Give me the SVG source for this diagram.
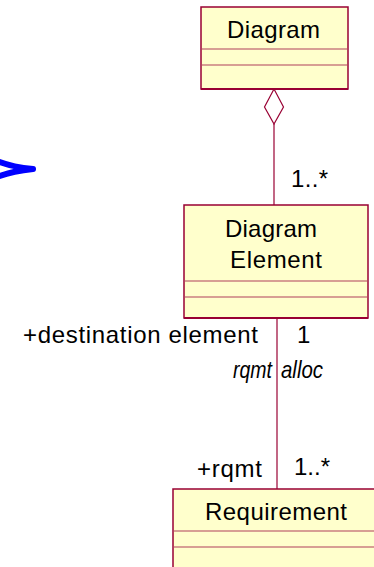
<svg xmlns="http://www.w3.org/2000/svg" width="374" height="567" viewBox="0 0 374 567">
  <style>
    .box { fill: #FFFFCC; stroke: #990033; stroke-width: 1.5; }
    .sep { stroke: #B0405A; stroke-width: 1.2; fill: none; }
    .base { stroke: #990033; stroke-width: 2.2; fill: none; }
    .name { font-family: "Liberation Sans", Arial, sans-serif; font-size: 24px; fill: #000; }
    .lbl { font-family: "Liberation Sans", Arial, sans-serif; font-size: 24px; fill: #000; }
    .it { font-style: italic; }
    .edge { stroke: #990033; stroke-width: 1.2; fill: none; }
  </style>

  <!-- stray pen stroke at the left margin -->
  <path d="M -3,161 Q 12,167 33,169 M -3,177 Q 12,171 33,169" fill="none" stroke="#0000FF" stroke-width="6" stroke-linecap="round" stroke-linejoin="round"/>

  <g id="connectors">
    <!-- aggregation: Diagram <>— Diagram Element -->
    <line class="edge" x1="274" y1="124" x2="274" y2="205"/>
    <polygon points="274,89 283.5,107 274,124 264.5,107" fill="#FFFFFF" stroke="#990033" stroke-width="1.2"/>
    <!-- association: Diagram Element — Requirement -->
    <line class="edge" x1="277" y1="318" x2="277" y2="489"/>
  </g>

  <g id="labels">
    <text class="lbl" x="291" y="187" textLength="37" lengthAdjust="spacing">1..*</text>
    <text class="lbl" x="23" y="343" textLength="235" lengthAdjust="spacing">+destination element</text>
    <text class="lbl" x="297" y="343">1</text>
    <text class="lbl it" x="233" y="378" textLength="39" lengthAdjust="spacingAndGlyphs">rqmt</text>
    <text class="lbl it" x="281" y="378" textLength="42" lengthAdjust="spacingAndGlyphs">alloc</text>
    <text class="lbl" x="197" y="477" textLength="65" lengthAdjust="spacing">+rqmt</text>
    <text class="lbl" x="294" y="475" textLength="36" lengthAdjust="spacing">1..*</text>
  </g>

  <g id="diagram">
    <rect class="box" x="201" y="7" width="147" height="82"/>
    <line class="sep" x1="201" y1="49" x2="348" y2="49"/>
    <line class="sep" x1="201" y1="65" x2="348" y2="65"/>
    <line class="base" x1="201" y1="89" x2="348" y2="89"/>
    <text class="name" x="227" y="38" textLength="93" lengthAdjust="spacing">Diagram</text>
  </g>

  <g id="diagram-element">
    <rect class="box" x="184" y="205" width="184" height="113"/>
    <line class="sep" x1="184" y1="281" x2="368" y2="281"/>
    <line class="sep" x1="184" y1="297" x2="368" y2="297"/>
    <line class="base" x1="184" y1="318" x2="368" y2="318"/>
    <text class="name" x="225" y="237" textLength="92" lengthAdjust="spacing">Diagram</text>
    <text class="name" x="230" y="268" textLength="92" lengthAdjust="spacing">Element</text>
  </g>

  <g id="requirement">
    <rect class="box" x="173" y="489" width="206" height="90"/>
    <line class="sep" x1="173" y1="531" x2="379" y2="531"/>
    <line class="sep" x1="173" y1="547" x2="379" y2="547"/>
    <text class="name" x="205" y="520" textLength="142" lengthAdjust="spacing">Requirement</text>
  </g>
</svg>
